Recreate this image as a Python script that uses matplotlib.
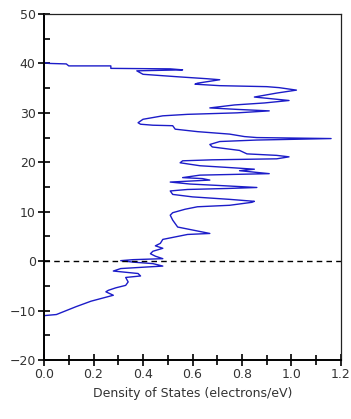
import numpy as np
import matplotlib
matplotlib.use("Agg")
import matplotlib.pyplot as plt
from matplotlib.ticker import MultipleLocator

# Energy (eV) and density of states (electrons/eV)
energy = [50.0, 40.2, 40.0, 39.9, 39.5, 39.5, 39.0, 38.9, 38.7, 38.5, 37.8, 37.3,
          36.9, 36.7, 36.0, 35.8, 35.5, 35.3, 35.1, 34.6, 34.0, 33.2, 32.8,
          32.5, 32.0, 31.6, 31.0, 30.7, 30.4, 30.0, 29.7, 29.4, 28.7, 28.0,
          27.7, 27.5, 27.4, 26.7, 26.2, 25.7, 25.2, 25.0, 24.8, 24.5, 24.2,
          23.6, 23.1, 22.4, 21.7, 21.4, 21.1, 20.7, 20.5, 20.3, 19.9, 19.3,
          18.9, 18.6, 18.3, 17.7, 17.4, 16.9, 16.7, 16.4, 16.0, 15.6, 15.3,
          14.9, 14.7, 14.5, 14.2, 13.5, 13.0, 12.5, 12.1, 11.9, 11.3, 11.0,
          10.5, 9.8, 9.3, 8.3, 6.9, 6.3, 5.6, 5.4, 4.8, 4.4, 3.6, 3.1, 2.6,
          2.0, 1.5, 1.0, 0.5, 0.3, 0.1, -0.2, -0.5, -1.0, -1.2, -1.5, -2.0,
          -2.5, -3.0, -3.3, -4.2, -4.9, -5.4, -5.9, -6.2, -6.9, -7.3, -8.1,
          -9.2, -10.0, -10.8, -11.0, -11.1, -20.0]
dos = [0.0, 0.0, 0.02, 0.09, 0.10, 0.27, 0.27, 0.51, 0.56, 0.375, 0.40, 0.54,
       0.66, 0.71, 0.62, 0.61, 0.71, 0.90, 0.95, 1.02, 0.94, 0.85, 0.93,
       0.99, 0.89, 0.77, 0.67, 0.78, 0.91, 0.78, 0.58, 0.48, 0.40, 0.38,
       0.39, 0.44, 0.52, 0.53, 0.62, 0.75, 0.81, 0.86, 1.16, 0.86, 0.71,
       0.67, 0.68, 0.79, 0.82, 0.94, 0.99, 0.94, 0.68, 0.56, 0.55, 0.63,
       0.76, 0.85, 0.79, 0.91, 0.63, 0.56, 0.64, 0.67, 0.51, 0.59, 0.71,
       0.86, 0.74, 0.58, 0.51, 0.52, 0.60, 0.75, 0.85, 0.84, 0.75, 0.62,
       0.57, 0.52, 0.51, 0.52, 0.54, 0.60, 0.67, 0.58, 0.52, 0.48, 0.47,
       0.45, 0.48, 0.44, 0.43, 0.45, 0.48, 0.36, 0.31, 0.36, 0.44, 0.48,
       0.41, 0.31, 0.28, 0.38, 0.39, 0.33, 0.34, 0.33, 0.29, 0.26, 0.25,
       0.28, 0.25, 0.19, 0.13, 0.09, 0.05, 0.005, 0.0, 0.0]

x_ticks = [0.0, 0.2, 0.4, 0.6, 0.8, 1.0, 1.2]
y_ticks = [-20, -10, 0, 10, 20, 30, 40, 50]
fermi_level = 0.0

fig = plt.figure(figsize=(3.51, 4.19), dpi=100)
ax = fig.add_axes([0.1254, 0.1408, 0.8461, 0.8258])

ax.plot(dos, energy, color='#1c1cc8', linewidth=1.0)
ax.axhline(fermi_level, color='black', linestyle=(0, (4, 3)), linewidth=1.0)

ax.set_xlim(0.0, 1.2)
ax.set_ylim(-20, 50)
ax.set_xticks(x_ticks)
ax.set_yticks(y_ticks)
ax.set_xticklabels([f'{v:.1f}' for v in x_ticks])
ax.xaxis.set_minor_locator(MultipleLocator(0.1))
ax.yaxis.set_minor_locator(MultipleLocator(5))

ax.tick_params(axis='both', which='major', direction='inout', length=8,
               width=1.2, labelsize=9, labelcolor='#333333', pad=2)
ax.tick_params(axis='x', which='minor', direction='inout', length=7, width=1.2)
ax.tick_params(axis='y', which='minor', direction='in', length=4, width=1.2)

for side in ['left', 'bottom']:
    ax.spines[side].set_linewidth(1.4)
for side in ['top', 'right']:
    ax.spines[side].set_linewidth(0.9)
    ax.spines[side].set_color('#222222')

ax.set_xlabel('Density of States (electrons/eV)', fontsize=9, color='#333333',
              labelpad=4)

plt.savefig('out.png', dpi=100)
plt.close()
